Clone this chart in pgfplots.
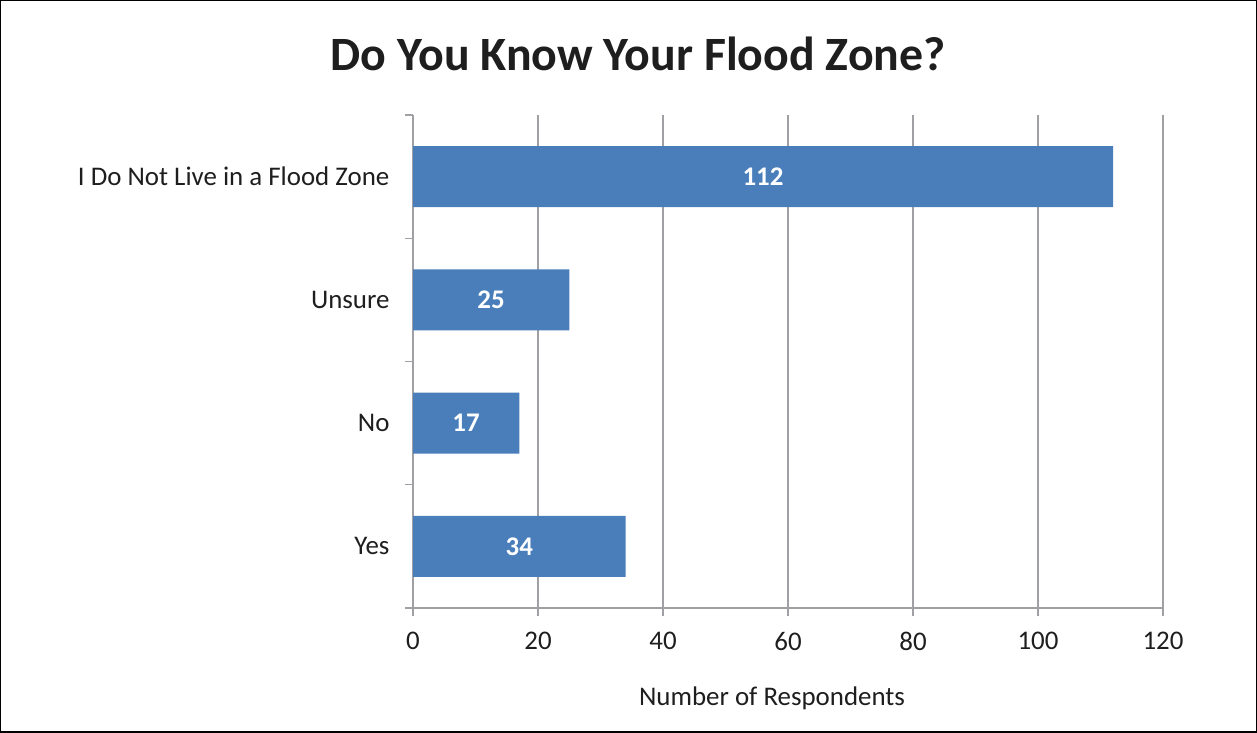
\documentclass[border=0pt]{standalone}
\usepackage{pgfplots}
\pgfplotsset{compat=1.18}
\usepackage{fontspec}
\setmainfont{Carlito}
\definecolor{barblue}{RGB}{74,126,187}
\definecolor{gridgray}{RGB}{160,160,164}
\definecolor{txt}{RGB}{30,30,30}
\begin{document}
\begin{tikzpicture}[x=1bp,y=1bp]
\draw[black,line width=1.5bp] (0.75,0.75) rectangle (1256.25,732.25);
\node[font=\fontsize{48}{54}\selectfont\bfseries,text=txt] at (638,679) {Do You Know Your Flood Zone?};
\begin{axis}[
  at={(413bp,125bp)}, anchor=south west,
  scale only axis, width=750bp, height=493bp,
  xmin=0, xmax=120, ymin=-0.5, ymax=3.5,
  xtick={0,20,...,120},
  ytick={-0.5,0.5,1.5,2.5,3.5},
  yticklabels={},
  extra y ticks={0,1,2,3},
  extra y tick labels={Yes,No,Unsure,I Do Not Live in a Flood Zone},
  extra y tick style={major tick length=0pt, ymajorgrids=false},
  axis line style={gridgray,line width=1.2bp},
  axis x line*=bottom, axis y line*=left,
  x axis line style={-}, y axis line style={-},
  xmajorgrids, major grid style={gridgray,line width=1.2bp},
  major tick length=8bp,
  tick style={gridgray,line width=1.2bp},
  tick align=outside,
  xtick pos=bottom, ytick pos=left,
  ticklabel style={font=\fontsize{27}{31}\selectfont,text=txt},
  /pgf/number format/assume math mode=true,
  xticklabel style={yshift=-13bp},
  yticklabel style={xshift=-20bp},
  xlabel={Number of Respondents},
  xlabel style={font=\fontsize{27}{31}\selectfont,text=txt,yshift=-29bp,xshift=-16bp},
  xbar, bar width=61bp,
]
\addplot[fill=barblue,draw=none,
  nodes near coords,
  visualization depends on={rawx \as \rx},
  every node near coord/.append style={font=\fontsize{27}{31}\selectfont\bfseries,text=white,anchor=center,xshift=-\rx*3.125bp},
  ] coordinates {(34,0) (17,1) (25,2) (112,3)};
\end{axis}
\end{tikzpicture}
\end{document}
